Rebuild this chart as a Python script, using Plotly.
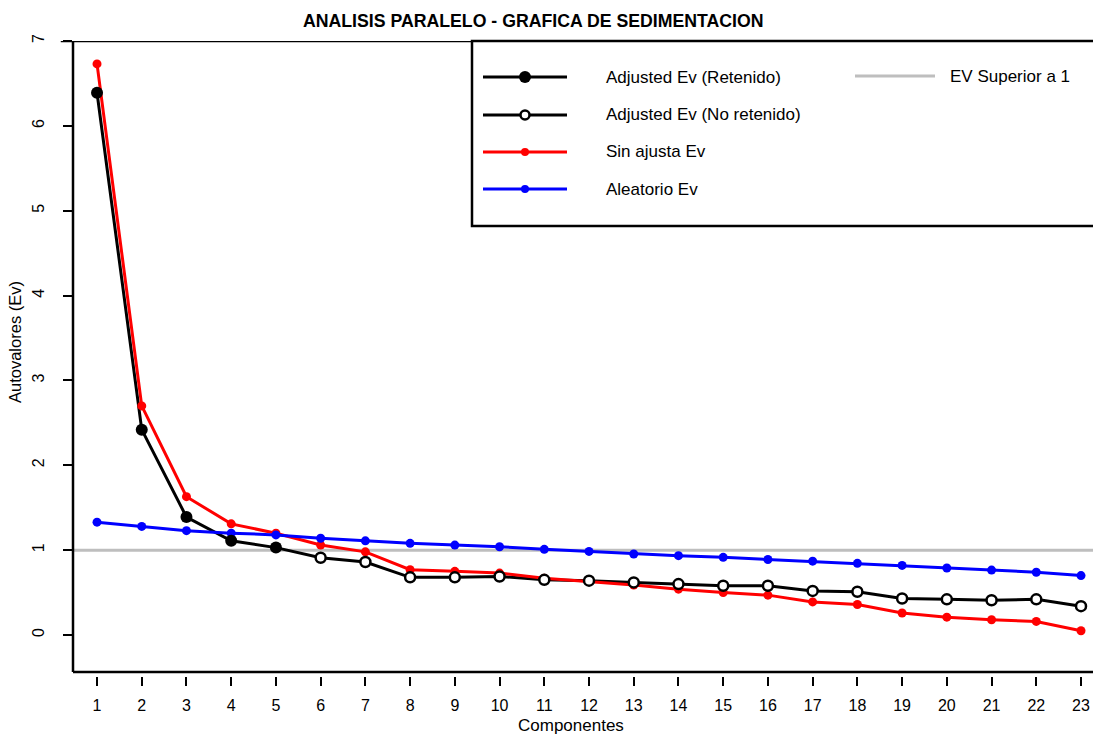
import plotly.graph_objects as go

# Parallel analysis scree data
componentes = list(range(1, 24))
ajustado = [6.39, 2.42, 1.39, 1.11, 1.03, 0.91, 0.86, 0.68, 0.68, 0.69, 0.65, 0.64,
            0.62, 0.60, 0.58, 0.58, 0.52, 0.51, 0.43, 0.42, 0.41, 0.42, 0.34]
sin_ajuste = [6.73, 2.70, 1.63, 1.31, 1.20, 1.06, 0.98, 0.77, 0.75, 0.73, 0.67, 0.63,
              0.59, 0.54, 0.50, 0.47, 0.39, 0.36, 0.26, 0.21, 0.18, 0.16, 0.05]
aleatorio = [1.33, 1.28, 1.23, 1.20, 1.18, 1.14, 1.11, 1.08, 1.06, 1.04, 1.01, 0.985,
             0.955, 0.935, 0.915, 0.89, 0.87, 0.845, 0.82, 0.79, 0.765, 0.74, 0.70]
n_retenidos = 5
umbral = 1

W, H = 1093, 734
L, R, T, B = 73, 0, 41, 58
X_RANGE = [0.463, 23.268]
Y_RANGE = [-0.483, 7.0]
Y_BOX = -0.436  # bottom of the framed box (axis ticks hang slightly below it)

FONT = "Liberation Sans, Arial, Helvetica, sans-serif"

pw = W - L - R
ph = H - T - B


def px(x):
    return (x - L) / pw


def py(y):
    return (H - B - y) / ph


ret_x, ret_y = componentes[:n_retenidos], ajustado[:n_retenidos]
no_x, no_y = componentes[n_retenidos:], ajustado[n_retenidos:]

fig = go.Figure()

# black line through all adjusted eigenvalues
fig.add_trace(go.Scatter(x=componentes, y=ajustado, mode="lines",
                         line=dict(color="black", width=3), hoverinfo="skip"))
fig.add_trace(go.Scatter(x=componentes, y=sin_ajuste, mode="lines+markers",
                         line=dict(color="#ff0000", width=3),
                         marker=dict(color="#ff0000", size=9)))
fig.add_trace(go.Scatter(x=componentes, y=aleatorio, mode="lines+markers",
                         line=dict(color="#0000ff", width=3),
                         marker=dict(color="#0000ff", size=9)))
fig.add_trace(go.Scatter(x=ret_x, y=ret_y, mode="markers",
                         marker=dict(color="black", size=12)))
fig.add_trace(go.Scatter(x=no_x, y=no_y, mode="markers",
                         marker=dict(color="white", size=10,
                                     line=dict(color="black", width=2.5))))

shapes = []
# threshold line at eigenvalue 1
shapes.append(dict(type="line", xref="paper", yref="y", x0=0, x1=1, y0=umbral, y1=umbral,
                   line=dict(color="#bebebe", width=3), layer="below"))
# frame: left, top, bottom
shapes.append(dict(type="line", xref="paper", yref="y", x0=0, x1=0, y0=Y_BOX, y1=Y_RANGE[1],
                   line=dict(color="black", width=2.5)))
shapes.append(dict(type="line", xref="paper", yref="y", x0=-0.012, x1=1, y0=Y_RANGE[1], y1=Y_RANGE[1],
                   line=dict(color="black", width=2.5)))
shapes.append(dict(type="line", xref="paper", yref="y", x0=0, x1=1, y0=Y_BOX, y1=Y_BOX,
                   line=dict(color="black", width=2.5)))

# legend box
shapes.append(dict(type="rect", xref="paper", yref="paper", x0=px(472), x1=px(1110),
                   y0=py(226), y1=py(41), fillcolor="white",
                   line=dict(color="black", width=2.5), layer="above"))

annotations = []
legend_rows = [
    ("Adjusted Ev (Retenido)", "black", "black", 12, 77),
    ("Adjusted Ev (No retenido)", "black", "white", 9, 115),
    ("Sin ajusta Ev", "#ff0000", "#ff0000", 8, 152),
    ("Aleatorio Ev", "#0000ff", "#0000ff", 8, 189),
]
for label, color, fill, size, yy in legend_rows:
    shapes.append(dict(type="line", xref="paper", yref="paper", x0=px(483), x1=px(567),
                       y0=py(yy), y1=py(yy), line=dict(color=color, width=3), layer="above"))
    shapes.append(dict(type="circle", xref="paper", yref="paper",
                       xsizemode="pixel", ysizemode="pixel",
                       xanchor=px(525), yanchor=py(yy),
                       x0=-size / 2, x1=size / 2, y0=-size / 2, y1=size / 2,
                       fillcolor=fill, line=dict(color=color, width=2.5 if fill == "white" else 0),
                       layer="above"))
    annotations.append(dict(text=label, xref="paper", yref="paper", x=px(604), y=py(yy),
                            xanchor="left", yanchor="middle", showarrow=False,
                            font=dict(family=FONT, size=17, color="black")))

shapes.append(dict(type="line", xref="paper", yref="paper", x0=px(855), x1=px(935),
                   y0=py(76), y1=py(76), line=dict(color="#bebebe", width=3), layer="above"))
annotations.append(dict(text="EV Superior a 1", xref="paper", yref="paper", x=px(948), y=py(76),
                        xanchor="left", yanchor="middle", showarrow=False,
                        font=dict(family=FONT, size=17, color="black")))

# title and axis titles
annotations.append(dict(text="<b>ANALISIS PARALELO - GRAFICA DE SEDIMENTACION</b>",
                        xref="paper", yref="paper", x=px(533), y=py(21),
                        xanchor="center", yanchor="middle", showarrow=False,
                        font=dict(family=FONT, size=17.7, color="black")))
annotations.append(dict(text="Componentes", xref="paper", yref="paper", x=px(571), y=py(725),
                        xanchor="center", yanchor="middle", showarrow=False,
                        font=dict(family=FONT, size=17, color="black")))
annotations.append(dict(text="Autovalores (Ev)", xref="paper", yref="paper", x=px(15), y=py(342),
                        xanchor="center", yanchor="middle", showarrow=False, textangle=-90,
                        font=dict(family=FONT, size=16.5, color="black")))

fig.update_layout(
    width=W, height=H,
    margin=dict(l=L, r=R, t=T, b=B, pad=0),
    paper_bgcolor="white", plot_bgcolor="white",
    showlegend=False,
    shapes=shapes, annotations=annotations,
    xaxis=dict(range=X_RANGE, tickmode="array", tickvals=componentes,
               ticktext=[str(c) for c in componentes],
               showgrid=False, zeroline=False, showline=False,
               ticks="outside", ticklen=9, tickwidth=2, tickcolor="black",
               ticklabelstandoff=6,
               tickfont=dict(family=FONT, size=16, color="black")),
    yaxis=dict(range=Y_RANGE, tickmode="array", tickvals=list(range(0, 8)),
               showgrid=False, zeroline=False, showline=False,
               ticks="outside", ticklen=9, tickwidth=2, tickcolor="black",
               tickangle=-90, ticklabelstandoff=13,
               tickfont=dict(family=FONT, size=16, color="black")),
)

fig.write_html("out.html")
